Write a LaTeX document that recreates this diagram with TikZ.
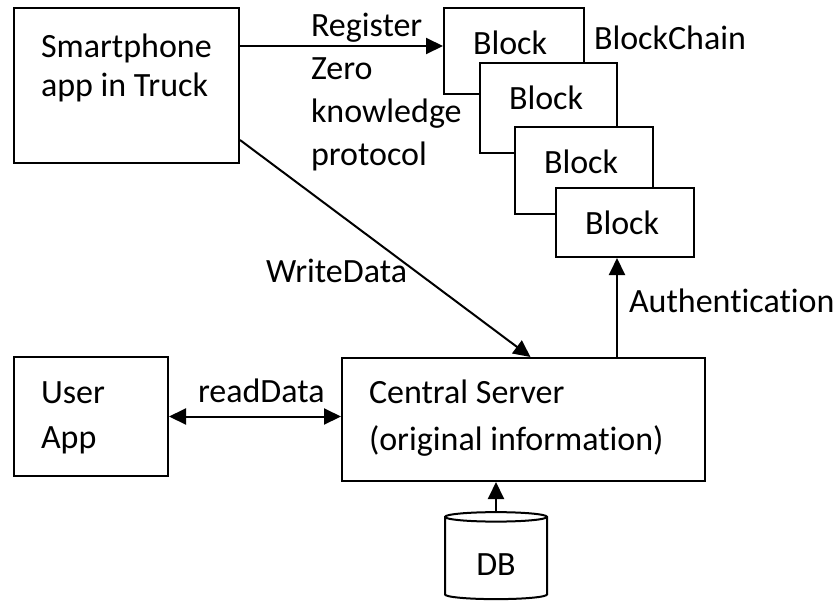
\documentclass[tikz,border=0pt]{standalone}
\usepackage{fontspec}
\setmainfont{Carlito}[RawFeature=-liga]
\usetikzlibrary{arrows.meta,shapes.geometric,calc}

\begin{document}
\begin{tikzpicture}[x=1pt,y=-1pt,
  line width=2pt,
  every node/.style={font=\fontsize{34}{41}\selectfont},
  boxnode/.style={draw, fill=white, inner sep=0pt, anchor=north west},
  blk/.style={draw, fill=white, anchor=north west, inner xsep=29pt, inner ysep=0pt,
              align=left, text height=46pt},
  % multi-line texts are placed by the baseline of their last line
  txt/.style={inner sep=0pt, anchor=base west, align=left},
  arr/.style={-{Triangle[length=17pt,width=16pt]}},
  darr/.style={{Triangle[length=17pt,width=16pt]}-{Triangle[length=17pt,width=16pt]}}
]
\useasboundingbox[fill=white] (0,0) rectangle (837,603);

% boxes
\node[boxnode, minimum width=225pt, minimum height=155pt] (phone) at (13,7) {};
\node[boxnode, minimum width=154pt, minimum height=119pt] (user) at (13,356) {};
\node[boxnode, minimum width=363pt, minimum height=123pt] (server) at (341,357) {};

% stacked blocks of the chain
\node[blk, text width=82pt, text depth=40pt] (block1) at (443,7) {Block};
\node[blk, text width=79pt, text depth=44pt] (block2) at (479,62) {Block};
\node[blk, text width=80pt, text depth=41pt] (block3) at (514,126) {Block};
\node[blk, text width=80pt, text depth=23pt] (block4) at (555,187) {Block};

% database
\node[cylinder, draw, fill=white, shape border rotate=90, aspect=0.24,
      minimum width=102pt, minimum height=87pt, inner sep=0pt,
      text height=33pt, text depth=0pt] (db) at (496,558.5) {DB};

% texts
\node[txt, font=\fontsize{34}{39}\selectfont] (phonetxt) at (40,96) {Smartphone\\app in Truck};
\node[txt, font=\fontsize{34}{42.7}\selectfont] (regtxt) at (310,165) {Register\\Zero\\knowledge\\protocol};
\node[txt] (chaintxt) at (593,49) {BlockChain};
\node[txt] (writetxt) at (265,282) {WriteData};
\node[txt] (readtxt) at (197,402) {readData};
\node[txt] (authtxt) at (628,312) {Authentication};
\node[txt, font=\fontsize{34}{45}\selectfont] (usertxt) at (40,448) {User\\App};
\node[txt, font=\fontsize{34}{47}\selectfont] (servertxt) at (368,450) {Central Server\\(original information)};

% connectors
\coordinate (regto) at ([yshift=5pt]block1.west);
\draw[arr] (phone.east |- regto) -- (regto);
\coordinate (wfrom) at ([yshift=24pt]phone.south east);
\coordinate (wto) at ([xshift=7pt]server.north);
\draw[arr] (wfrom) -- (wto);
\coordinate (authx) at (617,300);
\draw[arr] (server.north -| authx) -- (block4.south -| authx);
\draw[darr] (user.east) -- (user.east -| server.west);
\draw[arr] (db.north) -- (db.north |- server.south);
\end{tikzpicture}
\end{document}
